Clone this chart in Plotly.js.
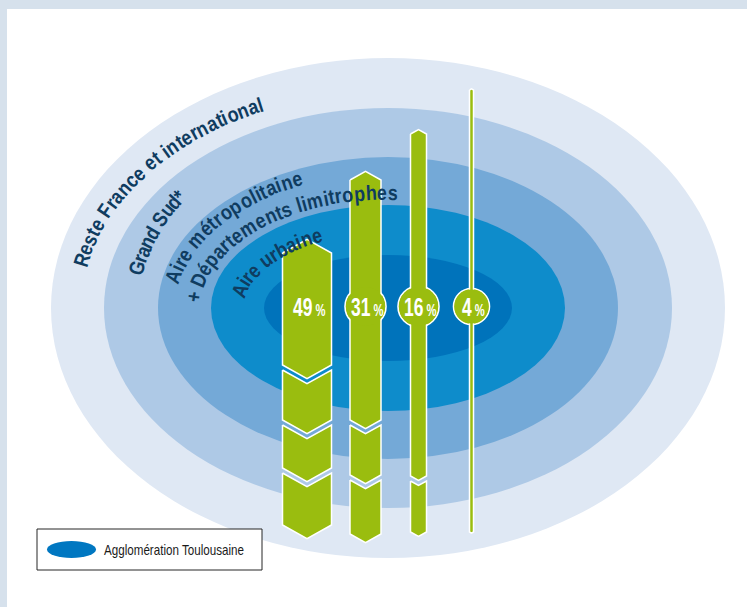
<!DOCTYPE html>
<html>
<head>
<meta charset="utf-8">
<script src="https://cdn.plot.ly/plotly-3.0.1.min.js"></script>
<style>html,body{margin:0;padding:0;background:#fff;}#chart{width:747px;height:607px;}</style>
</head>
<body>
<div id="chart"></div>
<script>
// ---------- data ----------
const zones = ["Agglomération Toulousaine", "Aire urbaine", "Aire métropolitaine + Départements limitrophes", "Grand Sud*", "Reste France et international"];
const barZones = ["Aire urbaine", "Aire métropolitaine + Départements limitrophes", "Grand Sud*", "Reste France et international"];
const shares = [49, 31, 16, 4];
const shareLabels = ["49", "31", "16", "4"];
const legendLabel = "Agglomération Toulousaine";
const ringLabels = [
  ["Reste France et international"],
  ["Grand Sud*"],
  ["Aire métropolitaine", "+ Départements limitrophes"],
  ["Aire urbaine"]
];

// ---------- geometry / style ----------
const CX = 388, CY = 308;
const ringA = [337, 284, 230, 177, 124];
const ringB = [250, 200, 151, 103, 53];
const ringColors = ["#dfe8f4", "#aec9e6", "#74a9d7", "#0e8ccb", "#0073bb"];
const green = "#9abd0f";
const navy = "#0f3c60";
const pxPerPct = 1.0;
const barCenters = [307, 365.5, 418.5, 471.5];
const barTops = [253, 180, 134, 90];
const barBottoms = [525, 534, 532, 532];
const barCuts = [[365, 420, 468], [420, 475], [476], []];
const cutGap = 5;
const labelY = 306.5;
const labelR = [0, 20.5, 20.5, 18];

// label arcs: [a, b, phiStart, phiEnd]
const labelArcs = [
  [[314, 223, 167.6, 114.0]],
  [[257, 192, 168.1, 144.1]],
  [[220, 142, 167.3, 114.4], [195, 116, 174.5, 88.5]],
  [[152, 82, 167.5, 118.0]]
];
const arcFont = 21;
const arcScale = 0.85;

const shapes = [];
const annotations = [];
const traces = [];
const condensed = []; // [annotation index, scale, origin]

// background frame
shapes.push({type:'rect', layer:'below', x0:0, x1:747, y0:0, y1:9, fillcolor:'#d6e1ec', line:{width:0}});
shapes.push({type:'rect', layer:'below', x0:0, x1:7, y0:0, y1:607, fillcolor:'#d6e1ec', line:{width:0}});

// rings
ringA.forEach((a, i) => {
  shapes.push({type:'circle', layer:'below', x0:CX - a, x1:CX + a, y0:CY - ringB[i], y1:CY + ringB[i],
    fillcolor: ringColors[i], line:{width:0}});
});

// label circle outlines (under bars)
shares.forEach((p, i) => {
  const w = p * pxPerPct;
  if (2 * labelR[i] > w) {
    shapes.push({type:'circle', layer:'below', x0:barCenters[i] - labelR[i], x1:barCenters[i] + labelR[i],
      y0:labelY - labelR[i], y1:labelY + labelR[i], fillcolor: green, line:{color:'#fff', width:1.6}});
  }
});

// bars as segmented polygons
shares.forEach((p, i) => {
  const w = p * pxPerPct, cx = barCenters[i], L = cx - w / 2, R = cx + w / 2;
  const rise = w * 0.28;
  const ends = barCuts[i].concat([barBottoms[i]]);
  let yTop = barTops[i];
  ends.forEach((yBot, k) => {
    const topMid = k === 0 ? yTop - rise : yTop + rise;
    const xs = [L, cx, R, R, cx, L, L];
    const ys = [yTop, topMid, yTop, yBot, yBot + rise, yBot, yTop];
    traces.push({type:'scatter', mode:'lines', x: xs, y: ys, fill:'toself', fillcolor: green,
      line:{color:'#fff', width:1.5}, hoverinfo:'skip', name: barZones[i]});
    yTop = yBot + cutGap;
  });
});

// label circle fills (over bars)
shares.forEach((p, i) => {
  const w = p * pxPerPct;
  if (2 * labelR[i] > w) {
    const r = labelR[i] - 0.9;
    shapes.push({type:'circle', layer:'above', x0:barCenters[i] - r, x1:barCenters[i] + r,
      y0:labelY - r, y1:labelY + r, fillcolor: green, line:{width:0}});
  }
});

// percentage labels
shareLabels.forEach((s, i) => {
  condensed.push([annotations.length, 0.7, 'center']);
  annotations.push({x: barCenters[i] + 1.5, y: labelY, xref:'x', yref:'y', showarrow:false,
    text: s + '<span style="font-size:16px"> %</span>',
    font:{family:'"Liberation Sans", Arial, sans-serif', size:25, color:'#fff', weight:700},
    xanchor:'center', yanchor:'middle'});
});

// legend
shapes.push({type:'rect', layer:'above', x0:37, x1:262, y0:529, y1:570, fillcolor:'#fff', line:{color:'#262626', width:1}});
shapes.push({type:'circle', layer:'above', x0:47, x1:96, y0:541, y1:558, fillcolor:'#0077c1', line:{width:0}});
condensed.push([annotations.length, 0.83, 'left']);
annotations.push({x:102, y:550, xref:'x', yref:'y', showarrow:false, text: legendLabel,
  font:{family:'"Liberation Sans", Arial, sans-serif', size:14, color:'#1a1a1a'},
  xanchor:'left', yanchor:'middle'});

// curved ring labels, one glyph per annotation along an ellipse
const ctx = document.createElement('canvas').getContext('2d');
ctx.font = 'bold ' + arcFont + 'px "Liberation Sans"';
function arcText(str, a, b, p0, p1) {
  const chars = Array.from(str);
  const ws = chars.map(c => ctx.measureText(c).width);
  const centers = [];
  let acc = 0;
  ws.forEach(w => { centers.push(acc + w / 2); acc += w; });
  const c0 = centers[0], cN = centers[centers.length - 1];
  const N = 600, phis = [], lens = [0];
  for (let k = 0; k <= N; k++) phis.push((p0 + (p1 - p0) * k / N) * Math.PI / 180);
  for (let k = 1; k <= N; k++) {
    const dx = a * (Math.cos(phis[k]) - Math.cos(phis[k - 1]));
    const dy = b * (Math.sin(phis[k]) - Math.sin(phis[k - 1]));
    lens.push(lens[k - 1] + Math.hypot(dx, dy));
  }
  const total = lens[N];
  chars.forEach((c, i) => {
    if (c === ' ') return;
    const s = (centers[i] - c0) / (cN - c0) * total;
    let k = 1;
    while (k < N && lens[k] < s) k++;
    const f = (s - lens[k - 1]) / ((lens[k] - lens[k - 1]) || 1);
    const phi = phis[k - 1] + f * (phis[k] - phis[k - 1]);
    const x = CX + a * Math.cos(phi), y = CY - b * Math.sin(phi);
    const ang = Math.atan2(b * Math.cos(phi), a * Math.sin(phi)) * 180 / Math.PI;
    annotations.push({x, y, xref:'x', yref:'y', showarrow:false, text: c, textangle: ang,
      font:{family:'"Liberation Sans", Arial, sans-serif', size: arcFont, color: navy, weight:700},
      xanchor:'center', yanchor:'middle', borderpad:0});
  });
}
ringLabels.forEach((lines, i) => {
  lines.forEach((line, j) => {
    const g = labelArcs[i][j];
    arcText(line, g[0], g[1], g[2], g[3]);
  });
});

// narrower glyph widths (condensed typeface emulation)
let css = '#chart g.annotation text{transform-box:fill-box;transform-origin:center center;transform:scaleX(' + arcScale + ');}\n';
css += condensed.map(([idx, sc, origin]) =>
  '#chart g.annotation[data-index="' + idx + '"] text{transform-box:fill-box;transform-origin:' + origin +
  ' center;transform:scaleX(' + sc + ');}').join('\n');
const st = document.createElement('style');
st.textContent = css;
document.head.appendChild(st);

const layout = {
  width:747, height:607, margin:{l:0, r:0, t:0, b:0},
  paper_bgcolor:'#ffffff', plot_bgcolor:'rgba(0,0,0,0)',
  xaxis:{range:[0, 747], visible:false, fixedrange:true},
  yaxis:{range:[607, 0], visible:false, fixedrange:true},
  showlegend:false, shapes, annotations
};
Plotly.newPlot('chart', traces, layout, {staticPlot:true, displayModeBar:false});
</script>
</body>
</html>
